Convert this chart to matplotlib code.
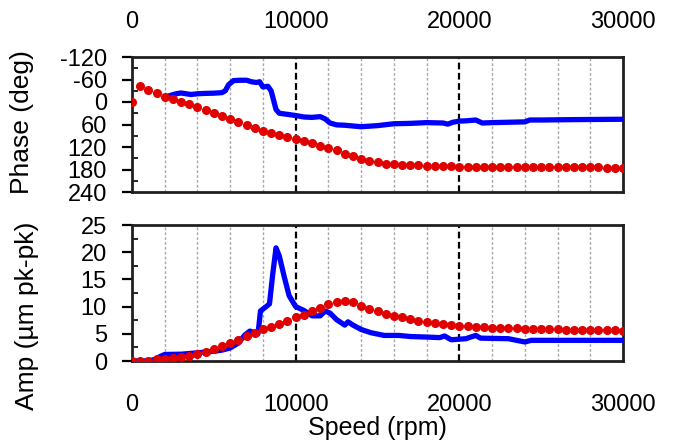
import numpy as np
import matplotlib
matplotlib.use("Agg")
import matplotlib.pyplot as plt
from matplotlib.ticker import MultipleLocator

plt.rcParams['font.family'] = ['Liberation Sans', 'DejaVu Sans']

# ---- data ----
red_speed = list(range(0, 30001, 500))
red_phase = [0, -42, -31, -23, -14, -7.6, 0, 6, 13, 20, 28, 37, 45, 53, 62, 70, 77, 83, 89, 94,
             99, 104, 110, 116, 122, 129, 138, 145, 152, 158, 161, 164, 166.5, 167.5, 168.5, 169,
             170, 170.5, 171, 171.5, 172, 172, 172.5, 172.5, 173, 173, 173, 173.5, 173.5, 173.5,
             174, 174, 174, 174, 174.5, 174.5, 174.5, 174.5, 175, 175, 175]
red_amp = [0, 0, 0.05, 0.3, 0.4, 0.6, 0.75, 1.0, 1.35, 1.7, 2.15, 2.7, 3.3, 3.9, 4.6, 5.2, 5.8,
           6.3, 6.8, 7.4, 8.0, 8.5, 9.1, 9.8, 10.4, 10.9, 11.0, 10.8, 10.2, 9.6, 9.15, 8.7, 8.25,
           8.0, 7.7, 7.4, 7.2, 7.0, 6.8, 6.6, 6.45, 6.35, 6.27, 6.2, 6.15, 6.1, 6.05, 6.0, 5.96,
           5.92, 5.88, 5.84, 5.8, 5.77, 5.74, 5.71, 5.68, 5.66, 5.64, 5.62, 5.6]

blue_phase_speed = [2000, 2300, 2700, 3000, 3300, 3600, 4000, 4500, 5000, 5500, 5700, 5900, 6200,
                    6600, 7000, 7300, 7600, 7800, 8000, 8300, 8500, 8800, 9000, 9500, 10000, 10500,
                    11000, 11500, 11800, 12100, 12500, 13000, 13500, 14000, 15000, 16000, 17000,
                    18000, 19000, 19300, 19600, 20000, 20500, 21000, 21400, 22000, 23000, 24000,
                    24300, 25000, 27000, 30000]
blue_phase = [-12, -17, -22, -24, -22, -20, -22, -23, -23.5, -25, -30, -46, -57, -58, -58, -54,
              -52, -54, -40, -42, -30, 20, 30, 33, 36, 40, 41, 39, 45, 56, 61, 62, 64, 66, 63, 58,
              57, 55, 56, 59, 54, 51, 50, 48, 56, 55, 54, 53, 48, 48, 47, 46]

blue_amp_speed = [0, 1000, 1400, 1700, 2000, 3000, 4000, 5000, 5500, 6000, 6500, 6900, 7200, 7500,
                  7700, 7850, 8200, 8400, 8600, 8800, 9000, 9300, 9600, 10000, 10500, 11000, 11500,
                  11800, 12100, 12500, 13000, 13200, 13500, 14000, 14600, 15400, 16300, 17000,
                  18000, 18800, 19100, 19500, 20400, 21000, 21300, 23000, 24000, 24400, 30000]
blue_amp = [0, 0, 0.3, 0.8, 1.2, 1.25, 1.5, 1.8, 2.0, 2.4, 3.3, 4.8, 5.5, 5.2, 5.0, 9.2, 10.0,
            10.5, 16, 20.8, 19.3, 15.5, 12, 10.0, 9.3, 8.3, 8.3, 9.2, 8.8, 7.6, 6.6, 7.2, 6.6, 5.8,
            5.2, 4.7, 4.7, 4.5, 4.4, 4.3, 4.6, 3.9, 4.1, 4.7, 4.2, 4.1, 3.5, 3.8, 3.8]

x_ticks = [0, 10000, 20000, 30000]
grid_x = [2000, 4000, 6000, 8000, 12000, 14000, 16000, 18000, 22000, 24000, 26000, 28000]
major_x = [10000, 20000]
phase_ticks = [-120, -60, 0, 60, 120, 180, 240]
amp_ticks = [0, 5, 10, 15, 20, 25]

BLUE = '#0000ff'
RED = '#e00000'
FS = 17

fig = plt.figure(figsize=(6.78, 4.47), dpi=100)
ax1 = fig.add_axes([132/678, 1-192/447, 491/678, 135/447])
ax2 = fig.add_axes([132/678, 1-361/447, 491/678, 136/447])

for ax in (ax1, ax2):
    for gx in grid_x:
        ax.axvline(gx, color='#a8a8a8', lw=1.0, ls=(0, (2, 1.5)), zorder=1)
    for gx in major_x:
        ax.axvline(gx, color='black', lw=1.6, ls=(0, (3, 1.6)), zorder=1.5)
    ax.set_xlim(0, 30000)
    ax.set_xticks(x_ticks)
    ax.tick_params(axis='x', length=0, labelsize=FS)
    ax.tick_params(axis='y', which='major', direction='out', length=7, width=1.6,
                   labelsize=FS, pad=11, right=False)
    ax.tick_params(axis='y', which='minor', direction='in', length=4, width=1.2, right=False)
    for s in ax.spines.values():
        s.set_linewidth(2.0)
        s.set_color('#202020')

# top panel: phase
ax1.plot(blue_phase_speed, blue_phase, color=BLUE, lw=3.8, zorder=3, solid_capstyle='butt')
ax1.plot(red_speed, red_phase, ls='none', marker='o', ms=5.5, color=RED, mec=RED, zorder=4)
ax1.set_ylim(240, -120)
ax1.set_yticks(phase_ticks)
ax1.set_yticklabels([str(t) for t in phase_ticks])
ax1.yaxis.set_minor_locator(MultipleLocator(30))
ax1.xaxis.tick_top()
ax1.tick_params(axis='x', length=0, pad=17, labeltop=True, labelbottom=False)
ax1.set_ylabel('Phase (deg)', fontsize=19)
ax1.yaxis.set_label_coords(-0.2, 0.52)

# bottom panel: amplitude
ax2.plot(blue_amp_speed, blue_amp, color=BLUE, lw=3.8, zorder=3, solid_capstyle='butt')
ax2.plot(red_speed, red_amp, ls='none', marker='o', ms=5.5, color=RED, mec=RED, zorder=4)
ax2.set_ylim(0, 25)
ax2.set_yticks(amp_ticks)
ax2.yaxis.set_minor_locator(MultipleLocator(2.5))
ax2.tick_params(axis='x', length=0, pad=24)
ax2.set_ylabel('Amp (\u00b5m pk-pk)', fontsize=19)
ax2.yaxis.set_label_coords(-0.19, 0.33)
ax2.set_xlabel('Speed (rpm)', fontsize=18)
ax2.xaxis.set_label_coords(0.5, -0.405)

fig.savefig('out.png', dpi=100)
